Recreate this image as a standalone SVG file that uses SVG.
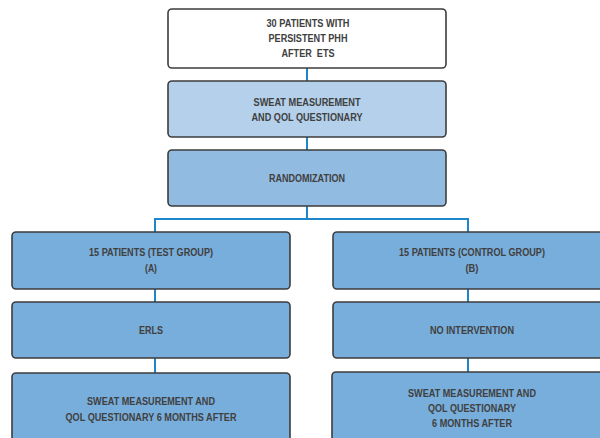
<svg xmlns="http://www.w3.org/2000/svg" width="600" height="438" viewBox="0 0 600 438">
<style>
.box{stroke:#3d3d3d;stroke-width:1.6}
.w{fill:#ffffff}.l1{fill:#b4d0eb}.l2{fill:#92bbe2}.l3{fill:#78aedb}
.t{font-family:"Liberation Sans",Arial,sans-serif;font-weight:bold;font-size:11px;fill:#404040;text-anchor:middle}
.c{stroke:#1d87c9;stroke-width:2;fill:none}
</style>
<rect width="600" height="438" fill="#ffffff"/>
<g id="connectors">
<line class="c" x1="307" y1="68" x2="307" y2="81"/>
<line class="c" x1="307" y1="137" x2="307" y2="150"/>
<polyline class="c" points="155,232 155,219 468,219 468,232"/>
<line class="c" x1="307" y1="206" x2="307" y2="219"/>
<line class="c" x1="155" y1="289" x2="155" y2="302"/>
<line class="c" x1="155" y1="358" x2="155" y2="373"/>
<line class="c" x1="468" y1="289" x2="468" y2="302"/>
<line class="c" x1="468" y1="358" x2="468" y2="372"/>
</g>
<g id="n1"><rect class="box w" x="168" y="9" width="278" height="59" rx="4"/>
<text class="t" x="308" y="27" textLength="83" lengthAdjust="spacingAndGlyphs">30 PATIENTS WITH</text><text class="t" x="308" y="42" textLength="79" lengthAdjust="spacingAndGlyphs">PERSISTENT PHH</text><text class="t" x="308" y="57" textLength="53" lengthAdjust="spacingAndGlyphs" xml:space="preserve">AFTER  ETS</text></g>
<g id="n2"><rect class="box l1" x="168" y="81" width="278" height="56" rx="4"/>
<text class="t" x="307" y="106" textLength="107" lengthAdjust="spacingAndGlyphs">SWEAT MEASUREMENT</text><text class="t" x="307" y="121" textLength="111" lengthAdjust="spacingAndGlyphs">AND QOL QUESTIONARY</text></g>
<g id="n3"><rect class="box l2" x="168" y="150" width="278" height="56" rx="4"/>
<text class="t" x="307" y="182" textLength="76" lengthAdjust="spacingAndGlyphs">RANDOMIZATION</text></g>
<g id="nA"><rect class="box l3" x="12" y="232" width="278" height="57" rx="4"/>
<text class="t" x="151" y="256" textLength="124" lengthAdjust="spacingAndGlyphs">15 PATIENTS (TEST GROUP)</text><text class="t" x="151" y="272" textLength="12" lengthAdjust="spacingAndGlyphs">(A)</text></g>
<g id="nERLS"><rect class="box l3" x="12" y="302" width="278" height="56" rx="4"/>
<text class="t" x="151" y="334" textLength="24" lengthAdjust="spacingAndGlyphs">ERLS</text></g>
<g id="nA3"><rect class="box l3" x="12" y="373" width="278" height="80" rx="4"/>
<text class="t" x="151" y="405" textLength="128" lengthAdjust="spacingAndGlyphs">SWEAT MEASUREMENT AND</text><text class="t" x="151" y="421" textLength="171" lengthAdjust="spacingAndGlyphs">QOL QUESTIONARY 6 MONTHS AFTER</text></g>
<g id="nB"><rect class="box l3" x="333" y="232" width="280" height="57" rx="4"/>
<text class="t" x="472" y="256" textLength="146" lengthAdjust="spacingAndGlyphs">15 PATIENTS (CONTROL GROUP)</text><text class="t" x="472" y="272" textLength="13" lengthAdjust="spacingAndGlyphs">(B)</text></g>
<g id="nNI"><rect class="box l3" x="333" y="302" width="280" height="56" rx="4"/>
<text class="t" x="472" y="334" textLength="84" lengthAdjust="spacingAndGlyphs">NO INTERVENTION</text></g>
<g id="nB3"><rect class="box l3" x="332" y="372" width="281" height="80" rx="4"/>
<text class="t" x="472" y="397" textLength="128" lengthAdjust="spacingAndGlyphs">SWEAT MEASUREMENT AND</text><text class="t" x="472" y="412" textLength="88" lengthAdjust="spacingAndGlyphs">QOL QUESTIONARY</text><text class="t" x="472" y="427" textLength="80" lengthAdjust="spacingAndGlyphs">6 MONTHS AFTER</text></g>
</svg>
